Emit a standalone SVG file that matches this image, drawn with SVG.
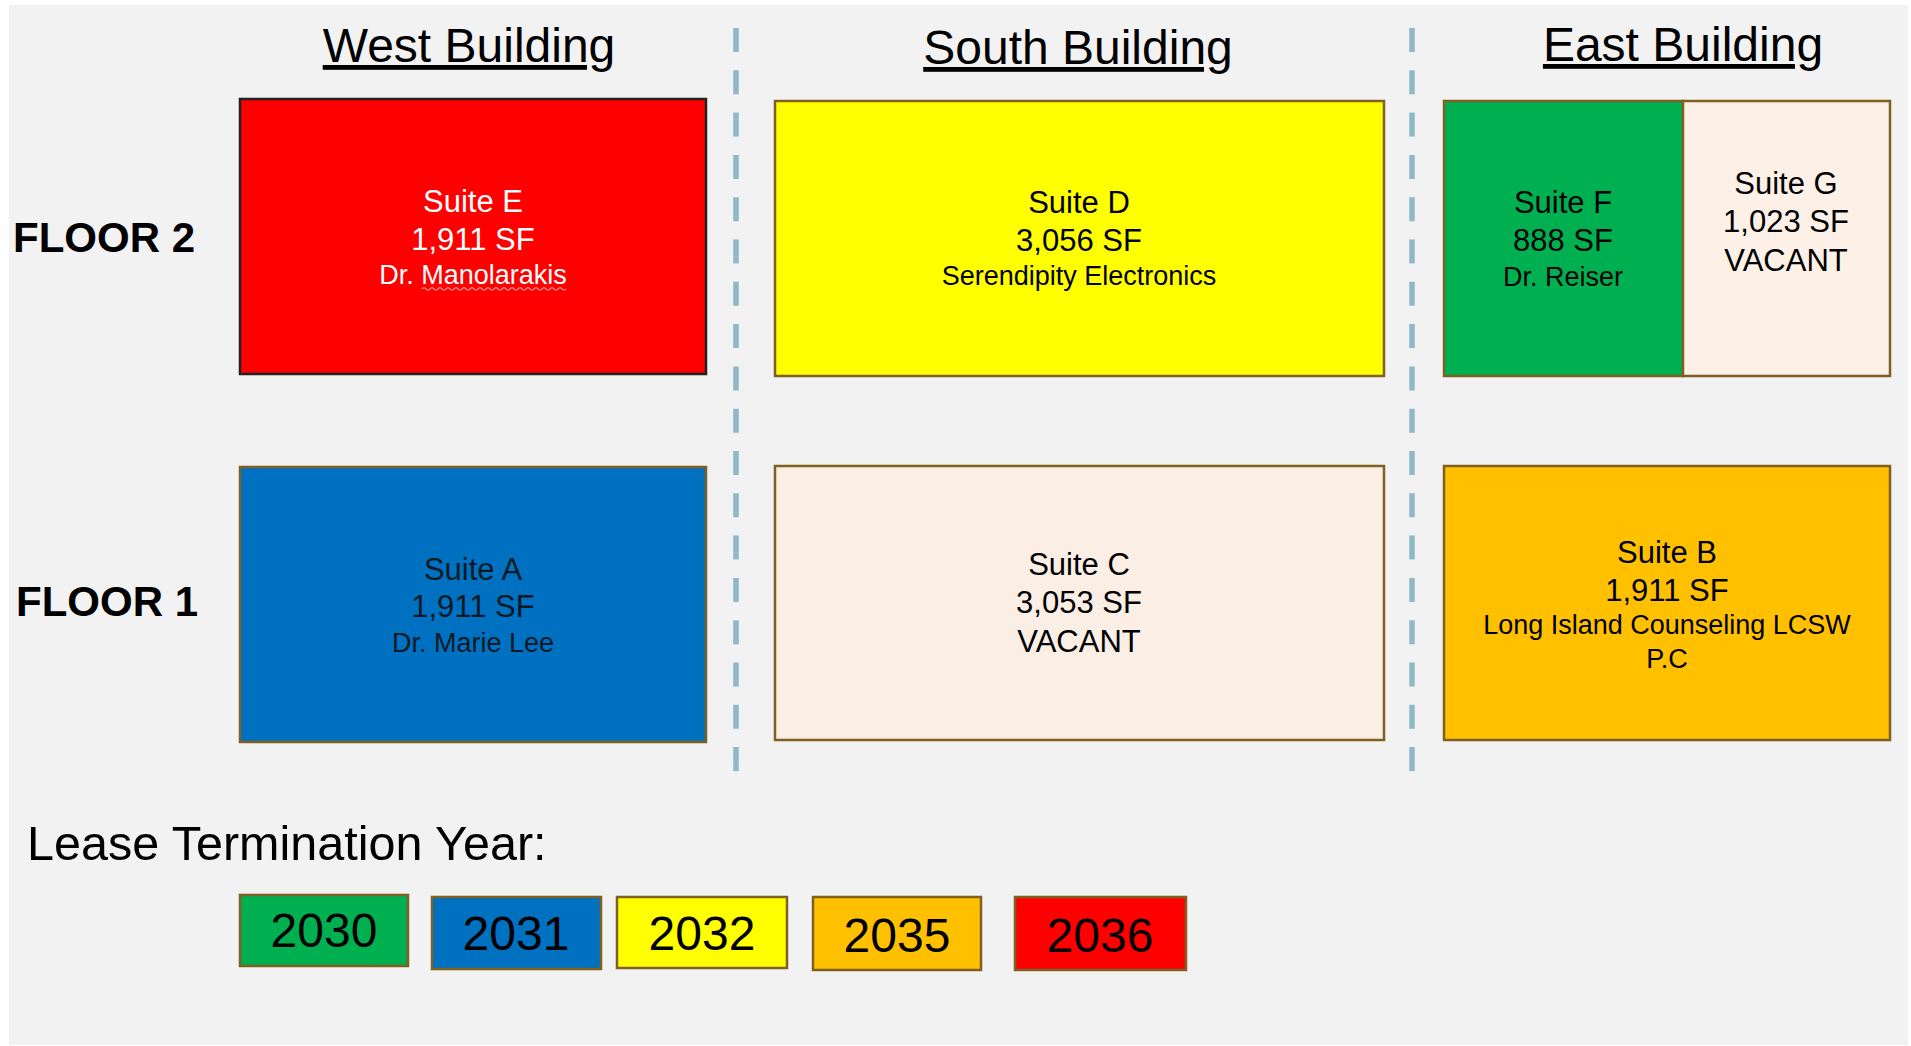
<svg xmlns="http://www.w3.org/2000/svg" width="1911" height="1046" viewBox="0 0 1911 1046">
<style>
text{font-family:"Liberation Sans",Arial,sans-serif;text-anchor:middle;}
.title{font-size:48px;fill:#000;text-decoration:underline;}
.floor{font-size:42px;font-weight:bold;fill:#000;text-anchor:start;}
.big{font-size:31px;}
.small{font-size:27px;}
.suite{stroke:#7f6020;stroke-width:2.5;}
.leg{stroke:#7f6020;stroke-width:2.5;}
.legt{font-size:48px;fill:#000;}
.dash{stroke:#8fb8c8;stroke-width:5.5;stroke-dasharray:24 18.3;fill:none;}
</style>
<rect x="0" y="0" width="1911" height="1046" fill="#ffffff"/>
<rect x="9" y="5" width="1899" height="1040" fill="#f2f2f2"/>

<g id="connectors">
<line class="dash" x1="736" y1="28" x2="736" y2="773"/>
<line class="dash" x1="1412" y1="28" x2="1412" y2="773"/>
</g>

<g id="headers">
<text id="west-title" class="title" x="469" y="62">West Building</text>
<text id="south-title" class="title" x="1078" y="64">South Building</text>
<text id="east-title" class="title" x="1683" y="61">East Building</text>
<text id="floor2" class="floor" x="13" y="252">FLOOR 2</text>
<text id="floor1" class="floor" x="16" y="616">FLOOR 1</text>
</g>

<g id="suite-e">
<rect x="240" y="99" width="466" height="275" fill="#ff0000" stroke="#222" stroke-width="2.5"/>
<text class="big" x="473" y="212" fill="#ffffff">Suite E</text>
<text class="big" x="473" y="250" fill="#ffffff">1,911 SF</text>
<text class="small" x="473" y="284" fill="#ffffff">Dr. Manolarakis</text>
<path d="M422 289 q2 -2.5 4 0 t4 0 t4 0 t4 0 t4 0 t4 0 t4 0 t4 0 t4 0 t4 0 t4 0 t4 0 t4 0 t4 0 t4 0 t4 0 t4 0 t4 0 t4 0 t4 0 t4 0 t4 0 t4 0 t4 0 t4 0 t4 0 t4 0 t4 0 t4 0 t4 0 t4 0 t4 0 t4 0 t4 0 t4 0 t4 0" fill="none" stroke="#ffb0b0" stroke-width="1.2"/>
</g>

<g id="suite-d">
<rect class="suite" x="775" y="101" width="609" height="275" fill="#ffff00"/>
<text class="big" x="1079" y="213" fill="#000">Suite D</text>
<text class="big" x="1079" y="251" fill="#000">3,056 SF</text>
<text class="small" x="1079" y="285" fill="#000">Serendipity Electronics</text>
</g>

<g id="suite-f">
<rect class="suite" x="1444" y="101" width="239" height="275" fill="#00b050"/>
<text class="big" x="1563" y="213" fill="#000">Suite F</text>
<text class="big" x="1563" y="251" fill="#000">888 SF</text>
<text class="small" x="1563" y="286" fill="#000">Dr. Reiser</text>
</g>

<g id="suite-g">
<rect class="suite" x="1683" y="101" width="207" height="275" fill="#fdf0e6"/>
<text class="big" x="1786" y="194" fill="#000">Suite G</text>
<text class="big" x="1786" y="232" fill="#000">1,023 SF</text>
<text class="big" x="1786" y="271" fill="#000">VACANT</text>
</g>

<g id="suite-a">
<rect class="suite" x="240" y="467" width="466" height="275" fill="#0070c0"/>
<text class="big" x="473" y="580" fill="#0d1a26">Suite A</text>
<text class="big" x="473" y="617" fill="#0d1a26">1,911 SF</text>
<text class="small" x="473" y="652" fill="#0d1a26">Dr. Marie Lee</text>
</g>

<g id="suite-c">
<rect class="suite" x="775" y="466" width="609" height="274" fill="#fbeee5"/>
<text class="big" x="1079" y="575" fill="#000">Suite C</text>
<text class="big" x="1079" y="613" fill="#000">3,053 SF</text>
<text class="big" x="1079" y="652" fill="#000">VACANT</text>
</g>

<g id="suite-b">
<rect class="suite" x="1444" y="466" width="446" height="274" fill="#ffc000"/>
<text class="big" x="1667" y="563" fill="#000">Suite B</text>
<text class="big" x="1667" y="601" fill="#000">1,911 SF</text>
<text class="small" x="1667" y="634" fill="#000">Long Island Counseling LCSW</text>
<text class="small" x="1667" y="668" fill="#000">P.C</text>
</g>

<g id="legend">
<text x="27" y="860" style="font-size:48.5px;text-anchor:start;fill:#000">Lease Termination Year:</text>
<g id="leg-2030"><rect class="leg" x="240" y="895" width="168" height="71" fill="#00b050"/><text class="legt" x="324" y="947">2030</text></g>
<g id="leg-2031"><rect class="leg" x="432" y="897" width="169" height="72" fill="#0070c0"/><text class="legt" x="516" y="950">2031</text></g>
<g id="leg-2032"><rect class="leg" x="617" y="897" width="170" height="71" fill="#ffff00"/><text class="legt" x="702" y="950">2032</text></g>
<g id="leg-2035"><rect class="leg" x="813" y="897" width="168" height="73" fill="#ffc000"/><text class="legt" x="897" y="952">2035</text></g>
<g id="leg-2036"><rect class="leg" x="1015" y="897" width="171" height="73" fill="#ff0000"/><text class="legt" x="1100" y="952">2036</text></g>
</g>
</svg>
